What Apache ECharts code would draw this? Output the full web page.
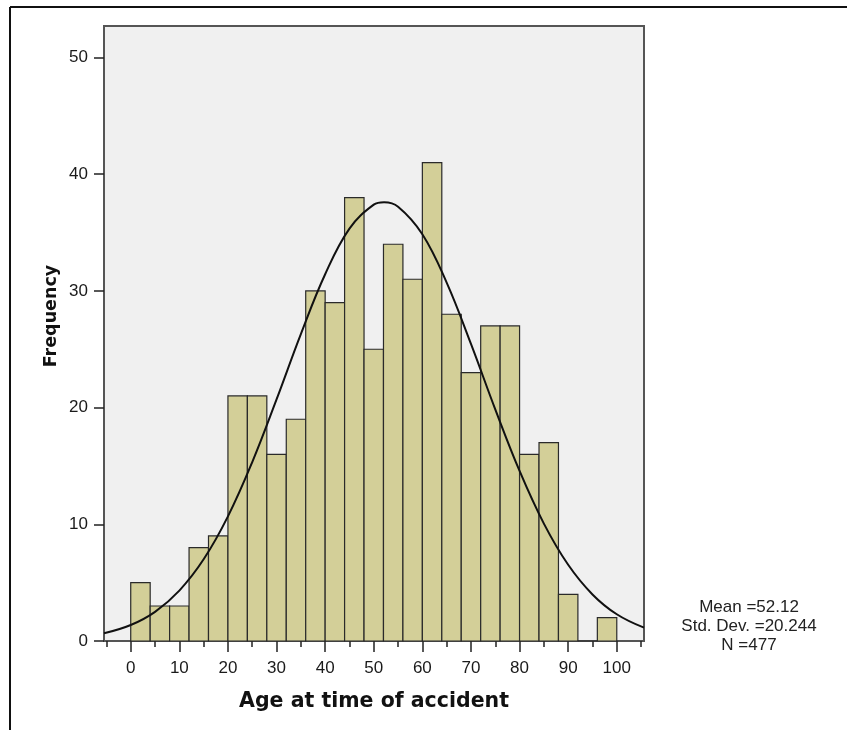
<!DOCTYPE html>
<html>
<head>
<meta charset="utf-8">
<script src="https://cdn.jsdelivr.net/npm/echarts@6/dist/echarts.min.js"></script>
<style>
  html, body { margin: 0; padding: 0; background: #fff; }
  #chart { width: 847px; height: 730px; }
</style>
</head>
<body>
<div id="chart"></div>
<script>
// histogram bins (age, width 4)
const binStart = [0, 4, 8, 12, 16, 20, 24, 28, 32, 36, 40, 44, 48, 52, 56, 60, 64, 68, 72, 76, 80, 84, 88, 92, 96];
const binWidth = 4;
const counts = [5, 3, 3, 8, 9, 21, 21, 16, 19, 30, 29, 38, 25, 34, 31, 41, 28, 23, 27, 27, 16, 17, 4, 0, 2];

// normal curve
const curveX = [-5.5, 0, 5, 10, 15, 20, 25, 30, 35, 40, 45, 50, 52.12, 55, 60, 65, 70, 75, 80, 85, 90, 95, 100, 105.6];
const curveY = [0.66, 1.37, 2.5, 4.32, 7.0, 10.68, 15.33, 20.7, 26.3, 31.43, 35.34, 37.39, 37.6, 37.22, 34.86, 30.71, 25.46, 19.85, 14.57, 10.06, 6.53, 3.99, 2.29, 1.14];

const xMajorTicks = [0, 10, 20, 30, 40, 50, 60, 70, 80, 90, 100];
const xMinorTicks = [-5, 5, 15, 25, 35, 45, 55, 65, 75, 85, 95, 105];
const yTicks = [0, 10, 20, 30, 40, 50];

const statLines = ["Mean =52.12", "Std. Dev. =20.244", "N =477"];

let myChart = echarts.init(document.getElementById("chart"));

let barData = binStart.map((s, i) => [s, s + binWidth, counts[i]]);
let curveData = curveX.map((x, i) => [x, curveY[i]]);

const axisColor = "#555";
const labelFont = { fontFamily: "Liberation Sans", fontSize: 17, color: "#1a1a1a" };

myChart.setOption({
  animation: false,
  grid: {
    left: 104,
    top: 26,
    width: 540,
    height: 615,
    show: true,
    backgroundColor: "#f0f0f0",
    borderColor: axisColor,
    borderWidth: 2,
  },
  xAxis: [
    {
      type: "value",
      min: -5.5,
      max: 105.6,
      position: "bottom",
      axisLine: { onZero: false, lineStyle: { color: axisColor, width: 2 } },
      axisTick: { show: true, customValues: xMajorTicks, length: 11, lineStyle: { color: "#222", width: 1.5 } },
      axisLabel: Object.assign({ customValues: xMajorTicks, margin: 19 }, labelFont),
      splitLine: { show: false },
    },
    {
      type: "value",
      min: -5.5,
      max: 105.6,
      position: "bottom",
      axisLine: { show: false, onZero: false },
      axisTick: { show: true, customValues: xMinorTicks, length: 6, lineStyle: { color: "#222", width: 1.5 } },
      axisLabel: { show: false },
      splitLine: { show: false },
    },
  ],
  yAxis: {
    type: "value",
    min: 0,
    max: 52.7,
    position: "left",
    axisLine: { show: true, onZero: false, lineStyle: { color: axisColor, width: 2 } },
    axisTick: { show: true, customValues: yTicks, length: 10, lineStyle: { color: "#222", width: 1.5 } },
    axisLabel: Object.assign({ customValues: yTicks, margin: 16 }, labelFont),
    splitLine: { show: false },
  },
  series: [
    {
      type: "custom",
      xAxisIndex: 0,
      data: barData,
      renderItem: function (params, api) {
        let p0 = api.coord([api.value(0), api.value(2)]);
        let p1 = api.coord([api.value(1), 0]);
        return {
          type: "rect",
          shape: { x: p0[0], y: p0[1], width: p1[0] - p0[0], height: p1[1] - p0[1] },
          style: { fill: "#d3cf98", stroke: "#2a2a2a", lineWidth: 1.2 },
        };
      },
      z: 2,
    },
    {
      type: "line",
      xAxisIndex: 0,
      data: curveData,
      smooth: 0.4,
      symbol: "none",
      lineStyle: { color: "#111", width: 2 },
      z: 3,
    },
  ],
  graphic: [
    { type: "line", shape: { x1: 10, y1: 7, x2: 847, y2: 7 }, style: { stroke: "#111", lineWidth: 2 } },
    { type: "line", shape: { x1: 10, y1: 7, x2: 10, y2: 730 }, style: { stroke: "#111", lineWidth: 2 } },
    {
      type: "text",
      x: 374,
      y: 702,
      style: {
        text: "Age at time of accident",
        font: "bold 20.5px 'DejaVu Sans'",
        fill: "#111",
        align: "center",
        verticalAlign: "middle",
      },
    },
    {
      type: "text",
      x: 51,
      y: 316,
      rotation: Math.PI / 2,
      style: {
        text: "Frequency",
        font: "bold 17.5px 'DejaVu Sans'",
        fill: "#111",
        align: "center",
        verticalAlign: "middle",
      },
    },
    {
      type: "text",
      x: 749,
      y: 598,
      style: {
        text: statLines.join("\n"),
        font: "17px 'Liberation Sans'",
        lineHeight: 19,
        fill: "#222",
        align: "center",
        verticalAlign: "top",
      },
    },
  ],
});
</script>
</body>
</html>
